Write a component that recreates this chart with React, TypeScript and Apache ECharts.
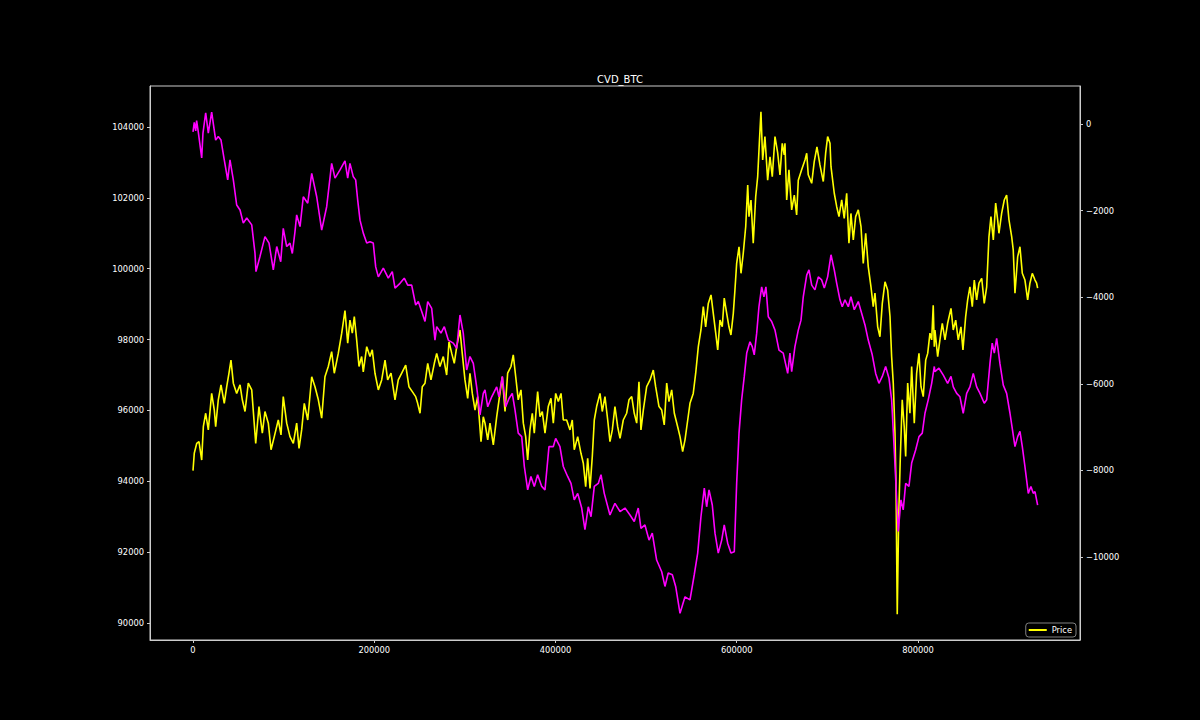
import React, { useEffect, useRef } from 'react';
import * as echarts from 'echarts';

const chartTitle = 'CVD_BTC';
const xTicks = [0, 200000, 400000, 600000, 800000];
const priceTicks = [90000, 92000, 94000, 96000, 98000, 100000, 102000, 104000];
const cvdTicks = [-10000, -8000, -6000, -4000, -2000, 0];

// Price (left axis) — [index, price]
const priceData: [number, number][] = [
  [0, 94300], [1400, 94790], [4100, 95070], [6600, 95120], [9600, 94600], [11400, 95540], [14000, 95920], [16900, 95450],
  [20600, 96480], [23500, 96010], [25000, 95540], [27900, 96300], [30900, 96720], [34500, 96200], [37200, 96670], [39700, 97050],
  [41900, 97420], [44500, 96770], [48200, 96480], [51900, 96720], [54400, 96300], [57400, 95970], [61000, 96770], [64800, 96580],
  [69200, 95070], [72800, 96110], [76500, 95360], [79400, 95970], [83100, 95640], [86100, 94890], [89700, 95260], [94100, 95730],
  [97100, 95310], [99600, 96390], [103400, 95640], [107000, 95260], [110700, 95070], [114400, 95640], [117000, 94930], [119900, 95450],
  [122800, 96200], [126600, 95730], [131000, 96950], [134600, 96670], [138300, 96300], [142000, 95780], [145600, 96950], [149300, 97240],
  [153000, 97660], [155900, 97050], [160300, 97610], [164100, 98180], [167700, 98820], [170700, 97900], [173200, 98550], [175800, 98180],
  [178000, 98650], [180600, 97990], [183200, 97240], [186100, 97520], [187900, 97090], [191700, 97800], [195300, 97520], [197800, 97710],
  [200800, 97050], [204500, 96580], [208200, 96860], [211900, 97420], [214800, 96860], [218500, 97050], [222900, 96300], [226500, 96860],
  [230300, 97050], [234700, 97280], [238300, 96670], [242000, 96530], [245700, 96390], [247900, 96200], [250500, 95920], [253000, 96670],
  [256000, 96770], [259000, 97330], [262600, 96860], [266300, 97330], [268900, 97610], [272500, 97240], [276200, 97520], [279900, 97000],
  [282500, 97940], [285500, 97610], [288300, 97330], [291000, 97800], [294600, 98270], [297100, 97610], [300100, 96860], [303100, 96340],
  [305600, 97050], [308200, 96480], [311200, 96010], [314100, 96390], [317800, 95120], [320300, 95820], [322200, 95640], [325200, 95170],
  [327700, 95640], [331400, 95030], [335100, 95820], [338700, 96480], [341300, 96950], [344300, 95970], [347200, 97050], [350900, 97240],
  [353400, 97570], [356100, 96950], [358900, 96300], [361900, 96580], [364500, 95640], [367100, 95260], [369300, 94600], [371800, 95450],
  [374400, 95920], [376600, 95360], [380300, 96530], [382900, 95820], [385400, 95970], [388400, 95360], [392000, 96110], [395000, 96340],
  [397600, 95640], [400200, 96480], [403100, 96250], [406100, 96480], [408600, 95730], [412300, 95730], [416000, 95450], [418500, 95730],
  [420700, 94890], [424500, 95260], [428100, 94790], [430700, 94510], [433300, 93850], [435500, 94650], [438100, 93800], [440600, 94700],
  [442800, 95730], [445400, 96110], [449100, 96480], [451600, 95970], [454600, 96390], [457600, 95730], [460100, 95120], [462700, 95450],
  [465600, 96110], [468600, 95540], [471200, 95210], [474800, 95730], [478500, 95920], [481100, 96300], [484100, 96390], [486900, 95920],
  [489600, 95640], [492100, 96810], [494300, 95450], [496900, 96010], [500600, 96670], [504300, 96860], [507900, 97140], [510500, 96670],
  [514200, 96110], [517200, 96010], [520000, 95590], [522700, 96770], [525200, 96250], [528200, 96580], [531100, 95920], [534800, 95540],
  [537400, 95260], [540300, 94840], [542900, 95170], [545900, 95730], [548400, 96200], [552000, 96480], [554700, 97050], [557600, 97800],
  [560500, 98270], [563100, 98930], [565700, 98360], [568600, 99020], [571600, 99260], [574100, 98740], [576800, 98180], [579000, 97710],
  [581500, 98550], [584000, 98360], [586200, 99170], [588900, 98740], [591400, 98360], [593600, 98130], [596200, 98740], [598000, 99400],
  [599900, 100150], [602500, 100620], [604700, 99870], [607200, 100440], [609900, 101190], [612100, 102360], [613500, 101470], [615700, 101940],
  [618200, 100720], [620900, 102030], [623100, 102600], [624900, 103540], [626700, 104430], [628600, 103070], [631100, 103730], [634100, 102500],
  [636700, 103160], [639200, 102600], [642200, 103730], [645200, 103260], [647700, 102650], [650200, 103540], [652400, 103210], [653200, 103540],
  [655100, 101940], [657600, 102790], [660600, 101660], [663500, 102080], [666100, 101520], [667900, 102500], [671600, 102790], [675300, 103070],
  [677200, 103260], [678900, 102650], [682700, 102410], [685500, 103020], [688500, 103440], [691800, 102930], [695500, 102460], [698100, 103260],
  [700300, 103730], [702900, 103540], [704000, 102880], [707600, 102130], [710300, 101750], [712800, 101470], [715800, 101940], [718600, 101420],
  [721300, 102130], [723800, 100720], [726000, 101560], [728600, 100810], [731200, 101470], [734100, 101660], [737100, 101190], [739600, 100150],
  [742300, 101000], [745100, 100060], [748100, 99490], [750600, 98930], [752500, 99310], [755500, 98360], [758000, 98080], [760600, 99020],
  [763600, 99630], [766500, 99400], [769100, 98650], [770900, 97520], [772700, 96770], [774600, 95360], [775700, 93950], [777100, 90250],
  [778700, 93000], [780400, 94600], [782600, 96300], [784800, 95540], [786400, 94700], [788600, 96770], [791100, 95920], [793000, 97240],
  [795900, 95640], [798500, 97050], [801100, 97610], [803300, 96670], [805800, 96390], [808500, 97420], [810700, 97610], [813200, 98180],
  [815100, 97990], [816800, 98970], [818000, 97800], [818700, 98270], [821700, 97520], [824200, 97990], [826800, 98460], [829800, 97990],
  [832700, 98460], [836400, 98880], [838900, 98270], [841600, 98550], [844400, 97990], [847400, 98360], [849600, 97710], [852600, 98650],
  [854800, 99120], [857300, 99490], [859900, 98930], [862100, 99680], [864700, 99120], [867300, 99590], [870300, 99730], [873100, 99020],
  [875800, 99490], [878300, 100900], [880500, 101470], [883100, 100810], [885700, 101850], [887900, 101380], [889300, 101000], [892300, 101560],
  [895200, 101940], [897800, 102080], [900400, 101380], [903400, 100900], [905100, 100530], [907000, 99310], [910000, 100340], [912500, 100620],
  [915100, 99870], [918000, 99680], [921000, 99120], [923500, 99590], [926100, 99870], [929100, 99680], [930900, 99590], [932000, 99450],
];

// CVD (right axis) — [index, cvd]
const cvdData: [number, number][] = [
  [0, -180], [1400, 40], [3000, -160], [4000, 80], [6000, -210], [9600, -785], [11000, -210], [14000, 260],
  [16900, -210], [20600, 277], [25000, -370], [27900, -290], [30900, -370], [34500, -830], [38300, -1290], [40800, -830],
  [44500, -1290], [48200, -1870], [51900, -1985], [55500, -2290], [59300, -2170], [64800, -2330], [68400, -2980], [69500, -3410],
  [73900, -3060], [79400, -2600], [83900, -2750], [88600, -3370], [92400, -2830], [96800, -3180], [99600, -2410], [103400, -2830],
  [107000, -2750], [109600, -2990], [112500, -2490], [114400, -2100], [118100, -2370], [121700, -1680], [126600, -1830], [131000, -1140],
  [136500, -1680], [142000, -2450], [147500, -1910], [153000, -910], [156700, -1250], [162200, -1060], [167700, -850], [170700, -1250],
  [173200, -910], [176900, -1220], [179500, -1290], [181700, -1750], [184300, -2220], [187900, -2520], [191700, -2750], [195300, -2720],
  [198900, -2750], [201600, -3300], [204500, -3530], [210000, -3330], [215500, -3560], [219900, -3410], [222900, -3790], [228400, -3680],
  [233100, -3560], [236900, -3720], [241300, -3720], [245700, -4180], [248600, -4100], [253000, -4370], [256000, -4560], [259000, -4100],
  [263400, -4260], [267000, -4990], [268900, -4680], [273600, -4830], [277300, -4680], [281700, -4990], [287200, -5060], [291000, -5180],
  [294600, -4410], [298200, -4830], [302000, -5680], [305600, -5370], [309300, -5530], [313000, -6070], [316700, -6720], [320300, -6220],
  [322200, -6140], [325200, -6530], [329600, -6300], [335100, -6070], [337600, -6300], [341300, -5830], [345000, -6530], [348700, -6340],
  [352300, -6220], [355300, -6600], [358900, -7140], [362700, -7220], [365600, -7910], [369300, -8450], [372900, -8140], [376600, -8370],
  [380300, -8100], [384800, -8370], [388400, -8450], [392800, -7450], [397600, -7450], [400200, -7260], [404900, -7450], [408600, -7910],
  [413400, -8140], [417100, -8300], [420700, -8680], [424500, -8530], [428900, -8870], [432500, -9370], [436200, -8840], [439200, -9070],
  [442800, -8370], [447200, -8300], [450200, -8100], [453800, -8530], [460100, -9030], [465600, -8760], [471200, -8950], [476700, -8870],
  [482200, -9030], [486900, -9180], [491300, -8870], [494300, -9340], [498700, -9260], [503200, -9610], [506800, -9450], [511600, -10070],
  [517200, -10340], [520800, -10680], [524400, -10370], [528900, -10410], [532600, -10680], [537400, -11300], [542900, -10920], [548400, -10990],
  [553100, -10410], [556900, -9910], [560500, -9070], [564200, -8410], [566800, -8840], [569400, -8450], [573000, -8800], [576000, -9450],
  [579600, -9910], [583400, -9610], [586200, -9260], [590000, -9680], [593600, -9910], [597300, -9880], [599900, -8300], [602500, -7140],
  [605400, -6370], [608300, -5830], [611000, -5290], [614600, -5030], [617100, -5140], [619300, -5330], [622000, -4830], [624500, -4220],
  [627500, -3760], [630000, -3990], [632200, -3760], [634800, -4450], [638500, -4560], [642200, -4760], [646600, -5220], [651300, -5290],
  [656200, -5760], [658700, -5290], [660600, -5720], [664200, -5140], [667900, -4760], [670900, -4530], [673400, -3990], [677200, -3490],
  [679700, -3370], [682700, -3720], [686300, -3830], [690000, -3530], [693700, -3600], [696600, -3790], [700300, -3530], [704000, -3020],
  [707600, -3370], [710300, -3680], [713900, -4060], [716400, -4220], [719400, -4060], [723100, -4220], [726000, -3990], [729700, -4290],
  [734100, -4100], [737800, -4370], [741500, -4640], [745100, -4990], [749500, -5330], [753300, -5760], [756900, -5990], [760600, -5830],
  [764300, -5600], [768000, -5870], [770900, -6370], [773800, -7530], [776500, -8680], [778200, -9410], [781200, -8680], [783700, -8910],
  [786400, -8300], [790000, -8370], [793000, -7830], [797400, -7530], [801100, -7220], [804700, -7140], [807700, -6680], [811300, -6370],
  [815100, -5990], [818000, -5600], [818700, -5720], [823100, -5640], [827900, -5800], [832700, -5990], [836400, -5830], [838900, -6070],
  [842700, -6220], [846300, -6300], [849900, -6680], [853700, -6220], [857300, -6070], [861000, -5760], [864700, -6070], [868400, -6220],
  [873100, -6450], [875800, -6370], [879400, -5530], [881900, -5060], [884200, -5290], [886800, -4950], [890400, -5530], [894100, -6030],
  [897800, -6220], [901500, -6680], [904000, -7030], [907000, -7450], [910000, -7220], [912500, -7100], [915100, -7450], [918000, -7910],
  [921700, -8530], [924600, -8370], [927200, -8530], [929100, -8490], [932000, -8800],
];

const FONT = 'DejaVu Sans';
const AXIS_COLOR = '#cccccc';
const TEXT_COLOR = '#ffffff';
const minusFmt = (v: number) => String(v).replace('-', '\u2212');

export default function App() {
  const ref = useRef<HTMLDivElement>(null);
  useEffect(() => {
    document.body.style.margin = '0';
    document.body.style.background = '#000';
    const chart = echarts.init(ref.current!, null, { renderer: 'svg' });
    chart.setOption({
      animation: false,
      backgroundColor: '#000000',
      title: {
        text: chartTitle,
        left: 615,
        top: 69,
        textAlign: 'center',
        textStyle: { color: TEXT_COLOR, fontSize: 10, fontWeight: 'normal', fontFamily: FONT },
      },
      legend: {
        data: ['Price'],
        right: 124,
        bottom: 83,
        icon: 'rect',
        itemWidth: 18,
        itemHeight: 2,
        padding: [3, 4, 3, 3],
        borderColor: '#808080',
        borderWidth: 1,
        borderRadius: 3,
        backgroundColor: '#000000',
        textStyle: { color: TEXT_COLOR, fontSize: 8.3, fontFamily: FONT },
      },
      grid: {
        left: 150,
        right: 120,
        top: 86,
        bottom: 80,
        show: true,
        borderColor: AXIS_COLOR,
        borderWidth: 1,
        backgroundColor: 'transparent',
        containLabel: false,
      },
      xAxis: {
        type: 'value',
        min: -47450,
        max: 978760,
        axisLine: { show: true, onZero: false, lineStyle: { color: AXIS_COLOR, width: 1 } },
        axisTick: { show: true, length: 3, lineStyle: { color: AXIS_COLOR, width: 1 }, customValues: xTicks },
        axisLabel: { color: TEXT_COLOR, fontSize: 8.3, fontFamily: FONT, margin: 6, customValues: xTicks, formatter: minusFmt },
        splitLine: { show: false },
      },
      yAxis: [
        {
          type: 'value',
          position: 'left',
          min: 89520,
          max: 105157,
          axisLine: { show: true, onZero: false, lineStyle: { color: AXIS_COLOR, width: 1 } },
          axisTick: { show: true, length: 3, lineStyle: { color: AXIS_COLOR, width: 1 }, customValues: priceTicks },
          axisLabel: { color: TEXT_COLOR, fontSize: 8.3, fontFamily: FONT, margin: 6, customValues: priceTicks, formatter: minusFmt },
          splitLine: { show: false },
        },
        {
          type: 'value',
          position: 'right',
          min: -11917,
          max: 878,
          axisLine: { show: true, onZero: false, lineStyle: { color: AXIS_COLOR, width: 1 } },
          axisTick: { show: true, length: 3, lineStyle: { color: AXIS_COLOR, width: 1 }, customValues: cvdTicks },
          axisLabel: { color: TEXT_COLOR, fontSize: 8.3, fontFamily: FONT, margin: 6, customValues: cvdTicks, formatter: minusFmt },
          splitLine: { show: false },
        },
      ],
      series: [
        {
          name: 'Price',
          type: 'line',
          yAxisIndex: 0,
          data: priceData,
          showSymbol: false,
          symbol: 'none',
          color: '#ffff00',
          lineStyle: { color: '#ffff00', width: 1.6 },
          z: 2,
        },
        {
          name: 'CVD',
          type: 'line',
          yAxisIndex: 1,
          data: cvdData,
          showSymbol: false,
          symbol: 'none',
          color: '#ff00ff',
          lineStyle: { color: '#ff00ff', width: 1.6 },
          z: 3,
        },
      ],
    });
    return () => chart.dispose();
  }, []);
  return <div ref={ref} style={{ width: 1200, height: 720, background: '#000' }} />;
}
